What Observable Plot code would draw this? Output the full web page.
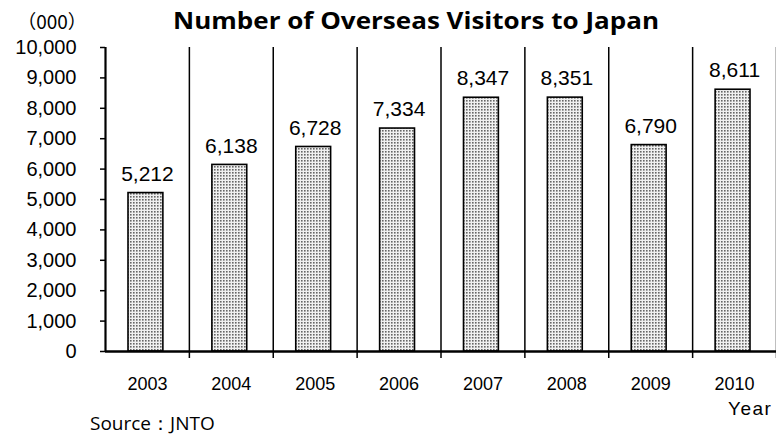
<!DOCTYPE html>
<html><head><meta charset="utf-8">
<script src="https://cdn.jsdelivr.net/npm/d3@7"></script>
<script src="https://cdn.jsdelivr.net/npm/@observablehq/plot@0.6"></script>
<style>
html,body{margin:0;padding:0;background:#fff;}
#chart{width:776px;height:436px;overflow:hidden;position:relative;}
</style></head>
<body>
<svg width="0" height="0" style="position:absolute">
  <defs>
    <pattern id="dots" patternUnits="userSpaceOnUse" width="3" height="3">
      <rect width="3" height="3" fill="#f0f0f0"></rect>
      <rect x="1" y="1" width="1.6" height="1.6" fill="#666666"></rect>
    </pattern>
  </defs>
</svg>
<div id="chart"></div>
<script>
const years = [2003, 2004, 2005, 2006, 2007, 2008, 2009, 2010];
const visitors = [5212, 6138, 6728, 7334, 8347, 8351, 6790, 8611];
const yTicks = [0, 1000, 2000, 3000, 4000, 5000, 6000, 7000, 8000, 9000, 10000];
const title = "Number of Overseas Visitors to Japan";
const unitLabel = "（000）";
const xTitle = "Year";
const source = "Source：JNTO";

const data = years.map((y, i) => ({year: y, value: visitors[i]}));
const fmt = d3.format(",");
const sans = "Liberation Sans, Arial, sans-serif";
const x0 = years[0] - 0.5, x1 = years[years.length - 1] + 0.5;

const plot = Plot.plot({
  width: 776, height: 436,
  marginLeft: 105, marginRight: 0, marginTop: 47, marginBottom: 85,
  style: {fontFamily: sans, fontSize: "19px", background: "#fff"},
  x: {domain: [x0, x1], axis: null},
  y: {domain: [0, 10000], axis: null},
  marks: [
    Plot.rectY(data, {x1: d => d.year - 0.5, x2: d => d.year + 0.5, y: "value",
      insetLeft: 23, insetRight: 26, fill: "url(#dots)", stroke: "#000", strokeWidth: 1.6}),
    Plot.text(data, {x: "year", y: "value", text: d => fmt(d.value), dy: -19, fontSize: 21, fill: "#000"}),
    Plot.axisY({ticks: yTicks, tickFormat: fmt, tickSize: 5, tickPadding: 24, fontSize: 20, label: null, stroke: "#000", strokeWidth: 1.5}),
    Plot.axisX({ticks: years, tickFormat: d => String(d), tickSize: 0, tickPadding: 26, fontSize: 18, label: null, fill: "#000", style: {letterSpacing: "1.5px"}}),
    Plot.tickX(years.map(y => y + 0.5), {x: d => d, y1: 0, y2: 0, dy: 0, stroke: "#000", strokeWidth: 1.5, insetBottom: -7}),
    Plot.ruleY([0], {x1: x0, x2: x1, stroke: "#000", strokeWidth: 2.5}),
    Plot.ruleX([x0], {y1: 0, y2: 10000, stroke: "#000", strokeWidth: 2.2})
  ]
});

const svg = d3.select(plot);
svg.append("text").attr("x", 416).attr("y", 29).attr("text-anchor", "middle")
  .attr("font-family", "'Open Sans', sans-serif").attr("font-weight", "bold").attr("font-size", 23)
  .attr("textLength", 486).attr("lengthAdjust", "spacingAndGlyphs")
  .attr("fill", "#000").text(title);
svg.append("text").attr("x", 52).attr("y", 29).attr("text-anchor", "middle")
  .attr("font-family", "'Noto Sans CJK JP', sans-serif").attr("font-size", 19)
  .attr("fill", "#000").text(unitLabel);
svg.append("text").attr("x", 728).attr("y", 415).attr("text-anchor", "start")
  .attr("font-family", sans).attr("font-size", 19).attr("letter-spacing", "1.5px")
  .attr("fill", "#000").text(xTitle);
svg.append("text").attr("x", 90).attr("y", 430).attr("text-anchor", "start")
  .attr("font-family", "'Open Sans', sans-serif").attr("font-size", 19)
  .attr("fill", "#000").text(source);

document.getElementById("chart").appendChild(plot);
</script></body></html>
